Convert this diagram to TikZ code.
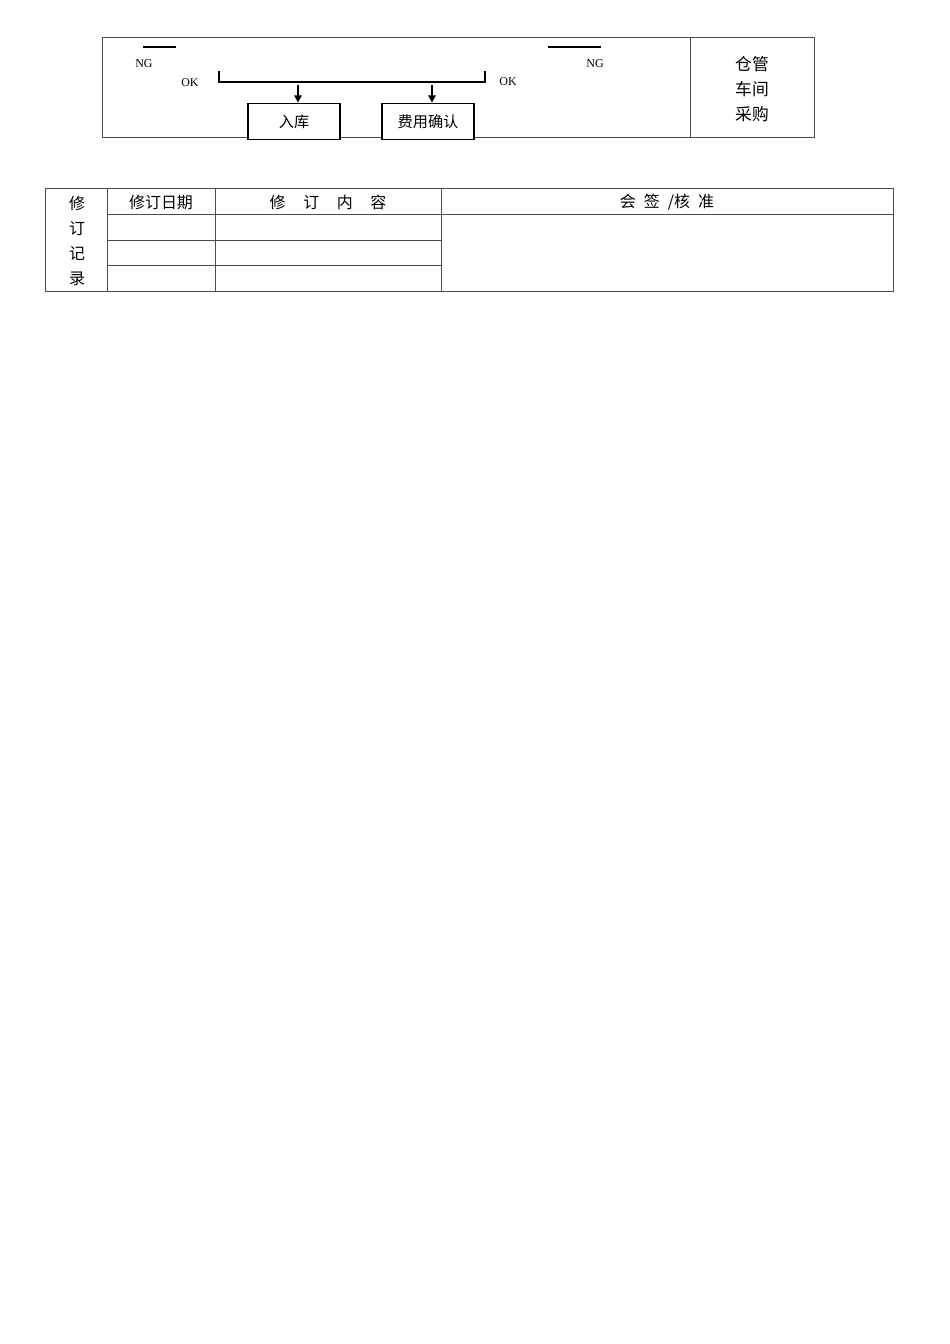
\documentclass[tikz,border=0pt]{standalone}
\usepackage{fontspec}
\setmainfont{Liberation Serif}
\newfontfamily\cjk{Noto Sans CJK SC}
\usepackage{tikz}
\usetikzlibrary{arrows.meta,positioning}

\tikzset{
  frame/.style={draw=black!70,line width=0.6pt},
  stepbox/.style={draw,fill=white,line width=0.7pt,minimum width=57.6pt,minimum height=23pt,inner sep=0pt,font=\cjk\fontsize{9.5}{11}\selectfont},
  tag/.style={font=\fontsize{7.5}{8}\selectfont,inner sep=0pt},
  cell/.style={font=\cjk\fontsize{10}{12}\selectfont,inner sep=0pt},
  thick line/.style={line width=1.4pt},
  flow/.style={-{Triangle[length=4.5pt,width=4.5pt]},line width=1.3pt}
}

\begin{document}
\begin{tikzpicture}[x=0.6263pt,y=-0.6263pt]
        \useasboundingbox (0,0) rectangle (950,1344);

        % upper frame
        \draw[frame] (102,37) rectangle (814,137);
        \draw[frame] (690,37) -- (690,137);

        \coordinate (ngl1) at (143,47);
        \coordinate (ngl2) at (176,47);
        \draw[thick line] (ngl1) -- (ngl2);
        \node[tag] (ngl) at (144,64) {NG};
        \node[tag] (okl) at (190,83) {OK};

        \coordinate (ngr1) at (548,47);
        \coordinate (ngr2) at (601,47);
        \draw[thick line] (ngr1) -- (ngr2);
        \node[tag] (ngr) at (595,64) {NG};
        \node[tag] (okr) at (508,82) {OK};

        % bracket
        \coordinate (b1) at (219,71);
        \coordinate (b2) at (219,82);
        \coordinate (b3) at (485,82);
        \coordinate (b4) at (485,71);
        \draw[thick line] (b1) -- (b2) -- (b3) -- (b4);

        \node[stepbox] (rk) at (294,121.5) {\raisebox{1pt}{入库}};
        \node[stepbox] (fy) at (428,121.5) {\raisebox{1pt}{费用确认}};

        \coordinate (a1) at (298,85);
        \coordinate (a2) at (432,85);
        \draw[flow] (a1) -- (a1 |- rk.north);
        \draw[flow] (a2) -- (a2 |- fy.north);

        \node[cell,font=\cjk\fontsize{10.5}{12}\selectfont] (cg) at (752,64) {仓管};
        \node[cell,font=\cjk\fontsize{10.5}{12}\selectfont] (cj) at (752,89) {车间};
        \node[cell,font=\cjk\fontsize{10.5}{12}\selectfont] (cgo) at (752,114) {采购};

        % revision table
        \draw[frame] (45,188) rectangle (893,291);
        \draw[frame] (107,188) -- (107,291);
        \draw[frame] (215,188) -- (215,291);
        \draw[frame] (441,188) -- (441,291);
        \draw[frame] (107,214) -- (893,214);
        \draw[frame] (107,240) -- (441,240);
        \draw[frame] (107,265) -- (441,265);

        \node[cell] (x1) at (77,203) {修};
        \node[cell] (x2) at (77,229) {订};
        \node[cell] (x3) at (77,254) {记};
        \node[cell] (x4) at (77,279) {录};

        \node[cell] (rq) at (161,202) {修订日期};
        \node[cell] (nr) at (328,202) {修\hspace{1.1em}订\hspace{1.1em}内\hspace{1.1em}容};
        \node[cell] (hz) at (667,202) {会\hspace{0.5em}签\hspace{0.5em}/核\hspace{0.5em}准};
\end{tikzpicture}
\end{document}
